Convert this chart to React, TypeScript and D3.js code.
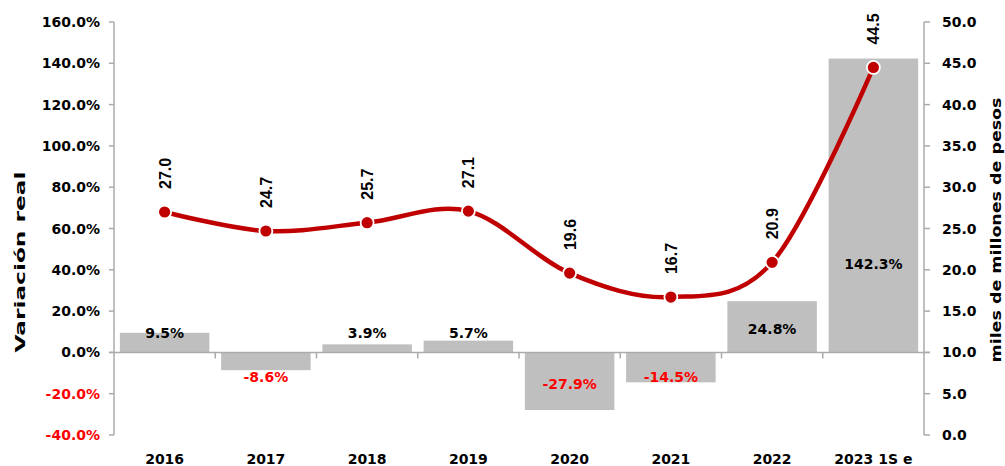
import { useEffect, useRef } from "react";
import * as d3 from "d3";

const categories = ["2016", "2017", "2018", "2019", "2020", "2021", "2022", "2023 1S e"];
const variacion = [9.5, -8.6, 3.9, 5.7, -27.9, -14.5, 24.8, 142.3];
const montos = [27.0, 24.7, 25.7, 27.1, 19.6, 16.7, 20.9, 44.5];
const leftTicks = [-40, -20, 0, 20, 40, 60, 80, 100, 120, 140, 160];
const rightTicks = [0, 5, 10, 15, 20, 25, 30, 35, 40, 45, 50];

const W = 1005;
const H = 466;
const FONT = "'DejaVu Sans', sans-serif";

export default function App() {
  const svgRef = useRef<SVGSVGElement | null>(null);

  useEffect(() => {
    const svg = d3.select(svgRef.current);
    svg.selectAll("*").remove();

    const left = 114, right = 924, top = 22, bottom = 435;
    const axisColor = "#ABABAB";

    const x = d3.scaleBand<string>()
      .domain(categories)
      .range([left, right])
      .paddingInner(0.116)
      .paddingOuter(0.058);
    const yL = d3.scaleLinear().domain([-40, 160]).range([bottom, top]);
    const yR = d3.scaleLinear().domain([0, 50]).range([bottom, top]);
    const y0 = yL(0);
    const step = x.step();

    // bars
    svg.append("g")
      .selectAll("rect")
      .data(variacion)
      .join("rect")
      .attr("x", (_, i) => x(categories[i])!)
      .attr("width", x.bandwidth())
      .attr("y", d => Math.min(yL(d), y0))
      .attr("height", d => Math.abs(yL(d) - y0))
      .attr("fill", "#BFBFBF");

    // left axis
    const gl = svg.append("g");
    gl.append("line")
      .attr("x1", left).attr("x2", left)
      .attr("y1", top).attr("y2", bottom)
      .attr("stroke", axisColor).attr("stroke-width", 1.5);
    gl.selectAll("line.t")
      .data(leftTicks)
      .join("line")
      .attr("class", "t")
      .attr("x1", left - 5).attr("x2", left)
      .attr("y1", d => yL(d)).attr("y2", d => yL(d))
      .attr("stroke", axisColor).attr("stroke-width", 1.5);
    gl.selectAll("text")
      .data(leftTicks)
      .join("text")
      .attr("x", 100)
      .attr("y", d => yL(d))
      .attr("dy", "0.36em")
      .attr("text-anchor", "end")
      .attr("font-family", FONT)
      .attr("font-weight", "bold")
      .attr("font-size", 14)
      .attr("fill", d => (d < 0 ? "#FF0000" : "#000"))
      .text(d => d.toFixed(1) + "%");

    // right axis
    const gr = svg.append("g");
    gr.append("line")
      .attr("x1", right).attr("x2", right)
      .attr("y1", top).attr("y2", bottom)
      .attr("stroke", axisColor).attr("stroke-width", 1.5);
    gr.selectAll("line.t")
      .data(rightTicks)
      .join("line")
      .attr("class", "t")
      .attr("x1", right).attr("x2", right + 6)
      .attr("y1", d => yR(d)).attr("y2", d => yR(d))
      .attr("stroke", axisColor).attr("stroke-width", 1.5);
    gr.selectAll("text")
      .data(rightTicks)
      .join("text")
      .attr("x", 942)
      .attr("y", d => yR(d))
      .attr("dy", "0.36em")
      .attr("font-family", FONT)
      .attr("font-weight", "bold")
      .attr("font-size", 14)
      .attr("fill", "#000")
      .text(d => d.toFixed(1));

    // category axis on the zero line
    const gx = svg.append("g");
    gx.append("line")
      .attr("x1", left - 5).attr("x2", right + 6)
      .attr("y1", y0).attr("y2", y0)
      .attr("stroke", axisColor).attr("stroke-width", 1.5);
    gx.selectAll("line.t")
      .data(d3.range(1, categories.length))
      .join("line")
      .attr("class", "t")
      .attr("x1", i => left + i * step).attr("x2", i => left + i * step)
      .attr("y1", y0).attr("y2", y0 + 6)
      .attr("stroke", axisColor).attr("stroke-width", 1.5);
    gx.selectAll("text")
      .data(categories)
      .join("text")
      .attr("x", d => x(d)! + x.bandwidth() / 2)
      .attr("y", 459)
      .attr("dy", "0.36em")
      .attr("text-anchor", "middle")
      .attr("font-family", FONT)
      .attr("font-weight", "bold")
      .attr("font-size", 14)
      .text(d => d);

    // bar labels
    svg.append("g")
      .selectAll("text")
      .data(variacion)
      .join("text")
      .attr("x", (_, i) => x(categories[i])! + x.bandwidth() / 2)
      .attr("y", d => {
        if (d < 0) return yL(Math.min(-12.1, d * 0.55));
        return yL(d > 100 ? d * 0.3 : Math.max(9.3, d * 0.45));
      })
      .attr("dy", "0.36em")
      .attr("text-anchor", "middle")
      .attr("font-family", FONT)
      .attr("font-weight", "bold")
      .attr("font-size", 14)
      .attr("fill", d => (d < 0 ? "#FF0000" : "#000"))
      .text(d => d.toFixed(1) + "%");

    // line (Excel-like smoothing)
    const cx = (i: number) => x(categories[i])! + x.bandwidth() / 2;
    const line = d3.line<number>()
      .x((_, i) => cx(i))
      .y(d => yR(d))
      .curve(d3.curveCardinal.tension(0));
    svg.append("path")
      .datum(montos)
      .attr("d", line)
      .attr("fill", "none")
      .attr("stroke", "#C00000")
      .attr("stroke-width", 4.5)
      .attr("stroke-linecap", "round");

    svg.append("g")
      .selectAll("circle")
      .data(montos)
      .join("circle")
      .attr("cx", (_, i) => cx(i))
      .attr("cy", d => yR(d))
      .attr("r", 6.5)
      .attr("fill", "#C00000")
      .attr("stroke", "#fff")
      .attr("stroke-width", 1.8);

    svg.append("g")
      .selectAll("text")
      .data(montos)
      .join("text")
      .attr("transform", (d, i) => `translate(${cx(i) + 6},${yR(d) - 23}) rotate(-90)`)
      .attr("font-family", "'Liberation Sans', Arial, sans-serif")
      .attr("font-weight", "bold")
      .attr("font-size", 16)
      .attr("fill", "#000")
      .text(d => d.toFixed(1));

    // axis titles
    svg.append("text")
      .attr("transform", "translate(20,262) rotate(-90)")
      .attr("dy", "0.36em")
      .attr("text-anchor", "middle")
      .attr("font-family", FONT)
      .attr("font-weight", "bold")
      .attr("font-size", 13.5)
      .attr("textLength", 181)
      .attr("lengthAdjust", "spacingAndGlyphs")
      .text("Variación real");

    svg.append("text")
      .attr("transform", "translate(996,230) rotate(-90)")
      .attr("dy", "0.36em")
      .attr("text-anchor", "middle")
      .attr("font-family", FONT)
      .attr("font-weight", "bold")
      .attr("font-size", 13.5)
      .attr("textLength", 265)
      .attr("lengthAdjust", "spacingAndGlyphs")
      .text("miles de millones de pesos");
  }, []);

  return (
    <svg
      ref={svgRef}
      width={W}
      height={H}
      style={{ position: "absolute", left: 0, top: 0, display: "block", background: "#fff" }}
    />
  );
}
